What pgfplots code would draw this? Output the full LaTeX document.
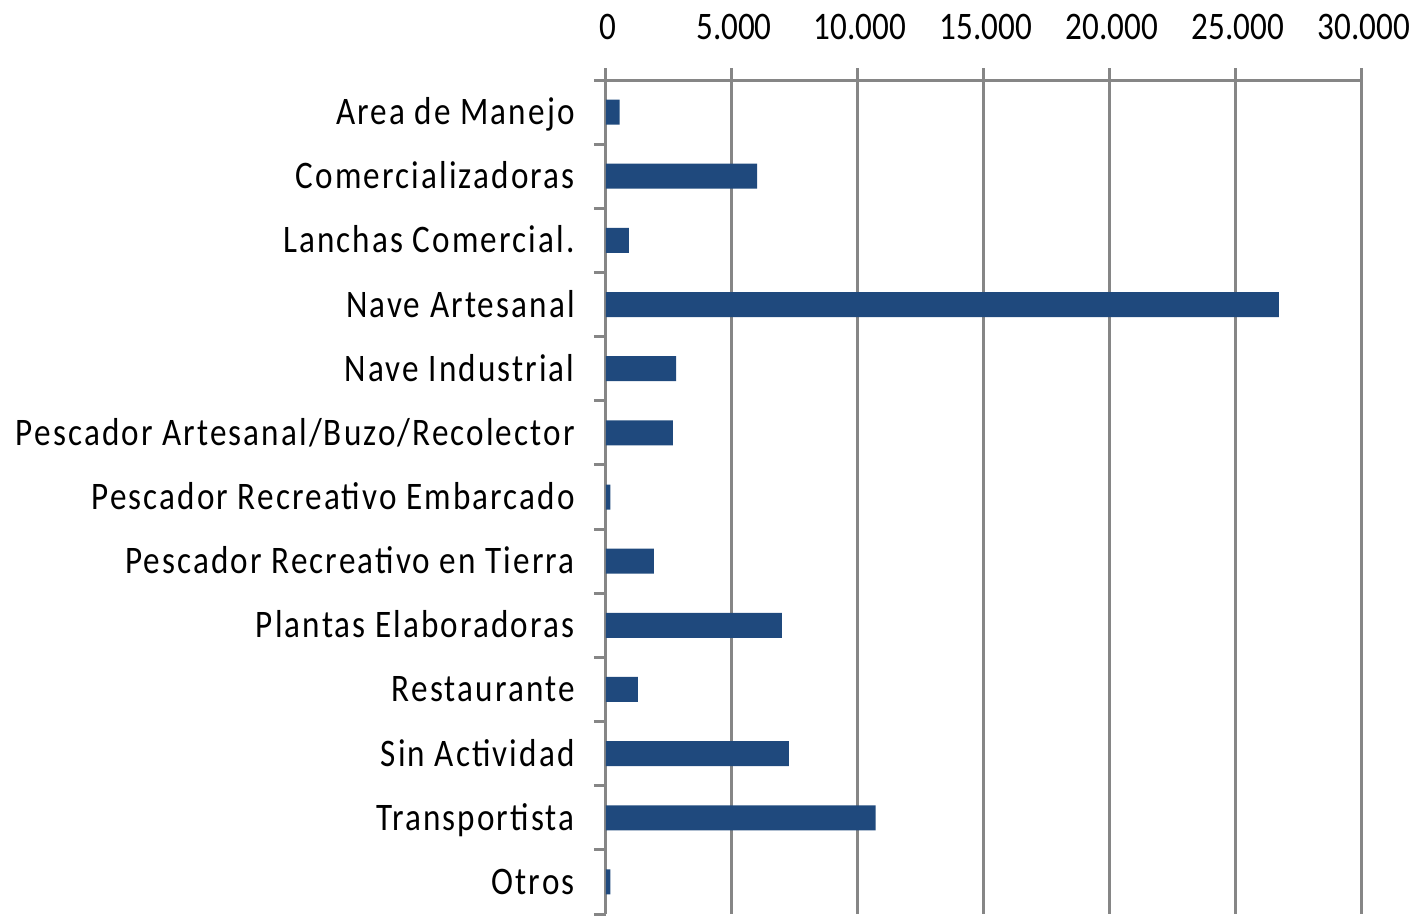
\documentclass[border=0pt]{standalone}
\usepackage{fontspec}
\setmainfont{Carlito}[FakeStretch=0.85]
\newfontfamily\labelfont{Carlito}[FakeStretch=0.85, LetterSpace=5.4]
\usepackage{pgfplots}
\pgfplotsset{compat=1.18}
\definecolor{barblue}{RGB}{31,73,125}
\definecolor{axgray}{RGB}{134,134,134}

\begin{document}
\begin{tikzpicture}
\useasboundingbox (-303pt,-1pt) rectangle (409pt,457pt);
\begin{axis}[
    at={(0,0)}, anchor=south west,
    scale only axis, width=378pt, height=417pt,
    xbar, bar width=12.5pt,
    xmin=0, xmax=30000,
    ymin=-0.5, ymax=12.5, y dir=reverse,
    axis x line*=top, axis y line*=left,
    axis line style={-, axgray, line width=1.5pt},
    xtick={0,5000,...,30000},
    scaled x ticks=false,
    /pgf/number format/1000 sep={.},
    /pgf/number format/assume math mode=true,
    xmajorgrids, grid style={axgray, line width=1.5pt},
    tick align=outside, major tick length=6pt,
    tick style={axgray, line width=1.5pt},
    ytick={-0.5,0.5,...,12.5}, yticklabels={},
    extra y ticks={0,1,2,3,4,5,6,7,8,9,10,11,12},
    extra y tick labels={Area de Manejo, Comercializadoras, Lanchas Comercial., Nave Artesanal, Nave Industrial, Pescador Artesanal/Buzo/Recolector, Pescador Recreativo Embarcado, Pescador Recreativo en Tierra, Plantas Elaboradoras, Restaurante, Sin Actividad, Transportista, Otros},
    extra y tick style={major tick length=0pt},
    every tick label/.append style={font=\fontsize{19.5pt}{22pt}\selectfont, text=black},
    yticklabel style={font=\labelfont\fontsize{19.5pt}{22pt}\selectfont, anchor=base east, inner sep=0pt, xshift=-15.5pt, yshift=-6.25pt},
    xticklabel style={anchor=base, inner sep=0pt, xshift=1pt, yshift=14.5pt},
]
\addplot[fill=barblue, draw=none] coordinates {
    (540,0) (6000,1) (910,2) (26700,3) (2780,4) (2650,5) (170,6)
    (1900,7) (6980,8) (1270,9) (7260,10) (10700,11) (170,12)
};
\end{axis}
\end{tikzpicture}
\end{document}
